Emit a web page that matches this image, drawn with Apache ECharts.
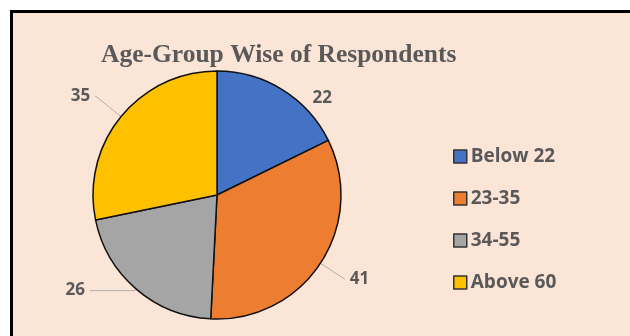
<!DOCTYPE html>
<html><head><meta charset="utf-8">
<script src="https://cdn.jsdelivr.net/npm/echarts@6/dist/echarts.min.js"></script>
<style>html,body{margin:0;padding:0;background:#fff;}#c{width:630px;height:336px;}</style>
</head><body><div id="c"></div>
<script>
const categories = ['Below 22', '23-35', '34-55', 'Above 60'];
const values = [22, 41, 26, 35];
const colors = ['#4472C4', '#ED7D31', '#A5A5A5', '#FFC000'];
const titleText = 'Age-Group Wise of Respondents';
// leader line lengths per slice [radial, horizontal]
const leader = [[0, 25], [29, 0], [2, 45], [32, 1]];
const leaderShown = [false, true, true, true];
const labelShiftY = [8, 0, 0, 0];

const chart = echarts.init(document.getElementById('c'), null, {renderer: 'canvas'});
chart.setOption({
  animation: false,
  backgroundColor: '#ffffff',
  graphic: [{
    type: 'rect', z: -10, silent: true,
    shape: {x: 11.5, y: 11.5, width: 700, height: 400},
    style: {fill: '#FBE5D6', stroke: '#000', lineWidth: 3}
  }],
  title: {
    text: titleText, left: 96, top: 37,
    textStyle: {fontFamily: 'Liberation Serif', fontWeight: 'bold', fontSize: 25.5, color: '#595959'}
  },
  legend: {
    orient: 'vertical', left: 448, top: 142, itemGap: 23,
    itemWidth: 13, itemHeight: 13, icon: 'rect',
    data: categories,
    itemStyle: {borderColor: '#333', borderWidth: 1.5},
    textStyle: {fontFamily: 'Open Sans', fontWeight: 'bold', fontSize: 19, color: '#595959', padding: [0,0,0,-1]}
  },
  series: [{
    type: 'pie',
    center: [217, 195],
    radius: 124,
    startAngle: 90,
    clockwise: true,
    data: categories.map((n, i) => ({
      name: n, value: values[i], itemStyle: {color: colors[i]},
      labelLine: {show: leaderShown[i], length: leader[i][0], length2: leader[i][1]}
    })),
    itemStyle: {borderColor: '#111', borderWidth: 1.5},
    label: {
      show: true, formatter: '{c}',
      fontFamily: 'Open Sans', fontWeight: 'bold', fontSize: 17, color: '#595959'
    },
    labelLayout: function (p) {
      return labelShiftY[p.dataIndex] ? {dy: labelShiftY[p.dataIndex]} : {};
    },
    labelLine: {lineStyle: {color: '#b0b0b0', width: 1}},
    emphasis: {disabled: true}
  }]
});
</script></body></html>
